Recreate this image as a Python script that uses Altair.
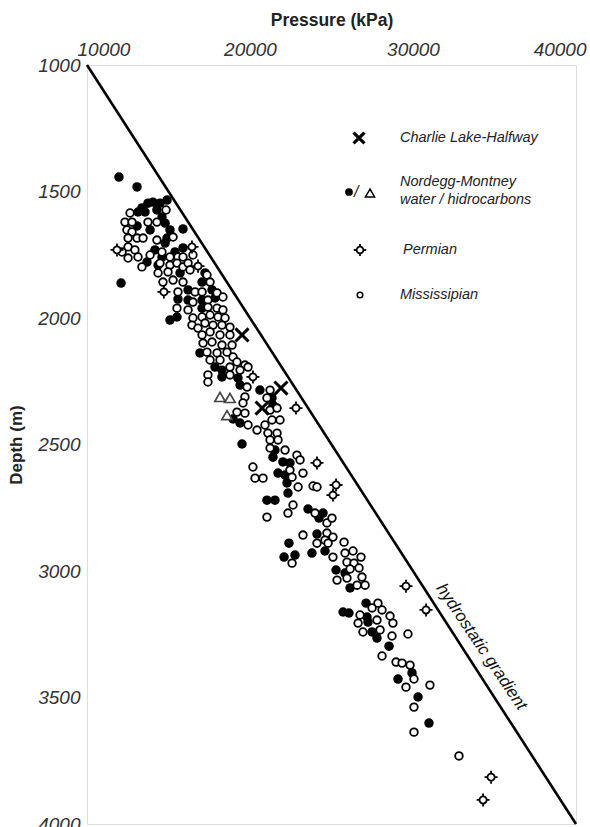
import altair as alt
import pandas as pd

# ---------------- data ----------------
# Nordegg-Montney water (filled circles): pressure kPa, depth m
water_p = [11960, 13070, 12090, 13370, 13740, 14050, 14480, 14910, 13130, 13560,
           14290, 14600, 15890, 13070, 13870, 14790, 15090, 14910, 14170, 14790,
           15400, 15890, 14600, 13680, 14360, 15710, 17240, 17060, 16200, 17670,
           15580, 16200, 17060, 17850, 17060, 15090, 15520, 16930, 17850, 18280,
           18280, 19260, 19390, 20610, 21350, 21410, 18960, 19390, 19510, 21530,
           21410, 22020, 22450, 21720, 22150, 22270, 22330, 21040, 21530, 23560,
           24480, 24230, 24110, 22390, 23800, 24600, 22090, 22760, 25280, 25830,
           26140, 27120, 25710, 26070, 27180, 27240, 27490, 27790, 28530, 29080,
           29940, 30310, 30980]
water_d = [1443, 1482, 1862, 1565, 1546, 1542, 1546, 1534, 1581, 1581,
           1573, 1601, 1648, 1636, 1652, 1625, 1652, 1684, 1731, 1704,
           1739, 1723, 1759, 1779, 1791, 1822, 1822, 1858, 1889, 1889,
           1925, 1929, 1929, 1921, 1961, 2008, 1996, 2138, 2194, 2206,
           2233, 2237, 2265, 2285, 2316, 2344, 2399, 2415, 2498, 2522,
           2550, 2569, 2573, 2613, 2621, 2652, 2692, 2720, 2720, 2755,
           2771, 2791, 2854, 2890, 2929, 2921, 2945, 2937, 2996, 3008,
           3067, 3127, 3162, 3166, 3182, 3202, 3241, 3265, 3297, 3427,
           3403, 3498, 3601]

# Nordegg-Montney hydrocarbons (open triangles)
hc_p = [18160, 18770, 18590]
hc_d = [2312, 2316, 2384]

# Charlie Lake-Halfway (crosses)
clh_p = [19510, 21900, 20740]
clh_d = [2067, 2277, 2356]

# Permian
perm_p = [11840, 16440, 14720, 16810, 20180, 22820, 24110, 25280, 25090,
          29570, 30800, 34790, 34300]
perm_d = [1731, 1719, 1897, 1795, 2233, 2356, 2573, 2660, 2700,
          3060, 3154, 3815, 3905]

# Mississipian (open circles)
miss_p = [12640, 12330, 12760, 12450, 12760, 13740, 14290, 14850, 12520, 13070,
          13440, 14290, 15280, 12520, 12940, 12150, 12520, 13130, 13870, 15090,
          15580, 15890, 13370, 14480, 15090, 15520, 15890, 16500, 14600, 16200,
          14360, 14970, 16320, 17360, 14660, 15280, 15890, 17550, 15580, 16630,
          17060, 17980, 17420, 16500, 15520, 16200, 17420, 17980, 18340, 16500,
          17060, 17550, 18040, 18470, 16440, 16810, 17240, 17730, 18280, 18770,
          17060, 17550, 18160, 18770, 17120, 17670, 18280, 18900, 17360, 17980,
          18590, 18960, 17550, 18160, 19200, 19690, 18770, 19390, 18340,
          17420, 17420, 18770, 19880, 19820, 19690, 19570, 19200, 19690, 19880,
          21230, 21040, 21230, 21660, 21350, 21840, 20430, 20920, 21100, 21660,
          21230, 21720, 21230, 22150, 22880, 23070, 20180, 20310, 20800, 22450,
          22580, 23250, 22950, 23870, 22640, 21040, 22330, 23250,
          24110, 23990, 24720, 25030, 24720, 24600, 25090, 24110, 24790, 25770,
          22580, 25090, 25830, 26320, 26810, 25950, 26380, 26140, 26690, 25340,
          25950, 26870, 27060, 26570,
          27850, 26750, 27490, 28100, 28590, 28770, 26630, 27790, 27980, 26930,
          28710, 29690, 28100, 28960, 29330, 29820, 30060, 29570, 31040, 30060,
          30060, 32820]
miss_d = [1585, 1621, 1621, 1652, 1660, 1621, 1621, 1573, 1684, 1684,
          1684, 1692, 1680, 1719, 1731, 1739, 1763, 1759, 1751, 1759,
          1759, 1759, 1798, 1783, 1791, 1783, 1798, 1751, 1739, 1783,
          1822, 1818, 1810, 1830, 1858, 1850, 1858, 1858, 1897, 1897,
          1897, 1901, 1929, 1937, 1961, 1968, 1957, 1961, 1968, 2000,
          1996, 1988, 1996, 2000, 2028, 2040, 2020, 2028, 2028, 2036,
          2067, 2055, 2067, 2067, 2099, 2095, 2107, 2107, 2135, 2138,
          2135, 2154, 2166, 2166, 2174, 2186, 2194, 2206, 1917,
          2225, 2253, 2225, 2194, 2273, 2312, 2336, 2372, 2376, 2423,
          2285, 2316, 2364, 2356, 2403, 2403, 2443, 2423, 2455, 2455,
          2482, 2482, 2514, 2522, 2542, 2561, 2589, 2633, 2633, 2601,
          2629, 2613, 2668, 2664, 2739, 2787, 2771, 2858,
          2668, 2771, 2810, 2791, 2850, 2878, 2866, 2890, 2890, 2886,
          2969, 2945, 2929, 2921, 2945, 2965, 2969, 2992, 2988, 3036,
          3028, 3024, 3056, 3056,
          3127, 3174, 3146, 3154, 3178, 3206, 3206, 3194, 3233, 3241,
          3257, 3249, 3336, 3360, 3364, 3372, 3427, 3459, 3451, 3538,
          3637, 3731]

# hydrostatic gradient line
hydro_p = [10000, 40000]
hydro_d = [1000, 4000]
hydro_label = ["hydrostatic gradient"]
hydro_label_p = [34200]
hydro_label_d = [3300]

x_ticks = [10000, 20000, 30000, 40000]
y_ticks = [1000, 1500, 2000, 2500, 3000, 3500, 4000]

FONT = "Liberation Sans"
W, H = 489, 759

xs = alt.Scale(domain=[10000, 40000], nice=False, zero=False)
ys = alt.Scale(domain=[1000, 4000], nice=False, zero=False, reverse=True)

X_AX = alt.Axis(orient="top", values=x_ticks, format="d", title="Pressure (kPa)",
                labelFont=FONT, labelFontStyle="italic", labelFontSize=19,
                labelColor="#333", labelPadding=6, ticks=False, domain=False, grid=False,
                labelFlush=True, labelFlushOffset=10,
                titleFont=FONT, titleFontSize=17.5, titleFontWeight="bold",
                titleColor="#222", titlePadding=11)
Y_AX = alt.Axis(values=y_ticks, format="d", title="Depth (m)",
                labelFont=FONT, labelFontStyle="italic", labelFontSize=19,
                labelColor="#333", labelPadding=7, ticks=False, domain=False, grid=False,
                titleFont=FONT, titleFontSize=17, titleFontWeight="bold",
                titleColor="#222", titlePadding=12)


def xy(df_p, df_d):
    return pd.DataFrame({"p": df_p, "d": df_d})


def enc(ch, first=False):
    if first:
        return ch.encode(x=alt.X("p:Q", scale=xs, axis=X_AX),
                         y=alt.Y("d:Q", scale=ys, axis=Y_AX))
    return ch.encode(x=alt.X("p:Q", scale=xs), y=alt.Y("d:Q", scale=ys))


line = enc(alt.Chart(xy(hydro_p, hydro_d)).mark_line(color="black", strokeWidth=2.6), first=True)

line_label = alt.Chart(pd.DataFrame({"p": hydro_label_p, "d": hydro_label_d, "t": hydro_label})).mark_text(
    font=FONT, fontStyle="italic", fontSize=17, angle=56, color="#111"
).encode(x=alt.X("p:Q", scale=xs), y=alt.Y("d:Q", scale=ys), text="t:N")

water = enc(alt.Chart(xy(water_p, water_d)).mark_circle(color="black", size=90, opacity=1))
miss = enc(alt.Chart(xy(miss_p, miss_d)).mark_point(shape="circle", filled=True, fill="white",
                                                     stroke="black", strokeWidth=1.8, size=58, opacity=1))

PERM_SHAPE = ("M0.55,0A0.55,0.55 0 1,1 -0.55,0A0.55,0.55 0 1,1 0.55,0Z"
              "M0.55,0L1,0M-0.55,0L-1,0M0,0.55L0,1M0,-0.55L0,-1")
perm = enc(alt.Chart(xy(perm_p, perm_d)).mark_point(shape=PERM_SHAPE, filled=True, fill="white",
                                                     stroke="black", strokeWidth=1.8, size=170, opacity=1))
hc = enc(alt.Chart(xy(hc_p, hc_d)).mark_point(shape="triangle-up", filled=True, fill="white",
                                               stroke="#444", strokeWidth=1.7, size=110, opacity=1))
X_SHAPE = "M-1,-1L1,1M-1,1L1,-1"
clh = enc(alt.Chart(xy(clh_p, clh_d)).mark_point(shape=X_SHAPE, filled=False, stroke="black",
                                                  strokeWidth=3, size=170, opacity=1))

# ---------------- manual legend (layout positions in pixels of the plot area) ----------------
legend_texts = ["Charlie Lake-Halfway", "Nordegg-Montney", "water / hidrocarbons", "Permian", "Mississipian"]
one = pd.DataFrame({"k": [0]})


def ltext(t, x, y, size=14.5):
    return alt.Chart(pd.DataFrame({"t": [t]})).mark_text(
        font=FONT, fontStyle="italic", fontSize=size, align="left", baseline="middle", color="#222"
    ).encode(x=alt.value(x), y=alt.value(y), text="t:N")


leg = [
    alt.Chart(one).mark_point(shape=X_SHAPE, filled=False, stroke="black", strokeWidth=3.2, size=120,
                              opacity=1).encode(x=alt.value(272), y=alt.value(73)),
    ltext(legend_texts[0], 313, 73),
    alt.Chart(one).mark_circle(color="black", size=60, opacity=1).encode(x=alt.value(262), y=alt.value(127)),
    ltext("/", 267, 127, 16),
    alt.Chart(one).mark_point(shape="triangle-up", filled=False, stroke="black", strokeWidth=1.5,
                              size=85, opacity=1).encode(x=alt.value(283), y=alt.value(128)),
    ltext(legend_texts[1], 313, 117),
    ltext(legend_texts[2], 313, 135),
    alt.Chart(one).mark_point(shape=PERM_SHAPE, filled=True, fill="white", stroke="black", strokeWidth=1.8,
                              size=150, opacity=1).encode(x=alt.value(273), y=alt.value(185)),
    ltext(legend_texts[3], 316, 185),
    alt.Chart(one).mark_point(shape="circle", filled=True, fill="white", stroke="black", strokeWidth=1.5,
                              size=32, opacity=1).encode(x=alt.value(273), y=alt.value(230)),
    ltext(legend_texts[4], 313, 230),
]

chart = alt.layer(line, line_label, water, miss, perm, hc, clh, *leg).properties(
    width=W, height=H,
    autosize=alt.AutoSizeParams(type="none"),
    padding={"left": 87, "top": 65, "right": 14, "bottom": 3},
).configure_view(stroke="#444", strokeWidth=1.5, fill="white").configure(background="white")

chart.save("out.html", embed_options={"renderer": "svg", "actions": False})
